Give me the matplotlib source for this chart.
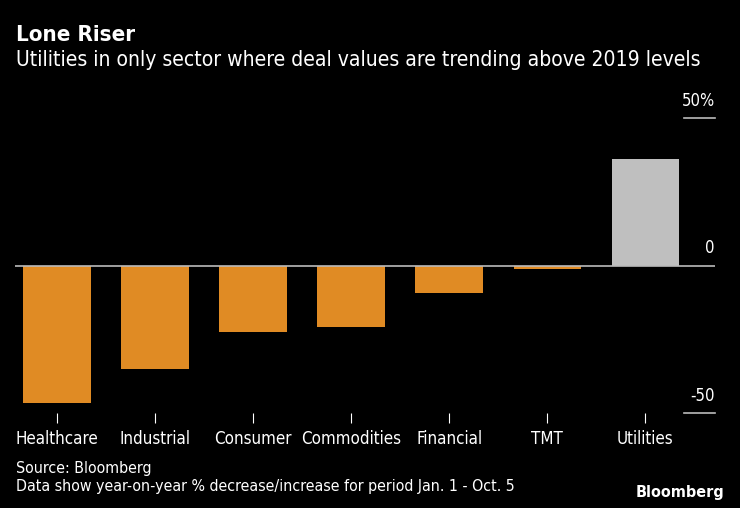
import matplotlib
matplotlib.use("Agg")
import matplotlib.pyplot as plt

sectors = ["Healthcare", "Industrial", "Consumer", "Commodities", "Financial", "TMT", "Utilities"]
values = [-46.6, -35.0, -22.7, -20.8, -9.2, -1.2, 36.0]
ytick_vals = [-50, 0, 50]
ytick_labels = ["-50", "0", "50%"]

plt.rcParams['font.family'] = ['DejaVu Sans']
plt.rcParams['font.stretch'] = 'condensed'

W, H = 740, 508
fig = plt.figure(figsize=(W/100, H/100), dpi=100, facecolor="black")

ax_l, ax_r = 15, 715
ax_top, ax_bot = 118, 413
ax = fig.add_axes([ax_l/W, 1-ax_bot/H, (ax_r-ax_l)/W, (ax_bot-ax_top)/H])
ax.set_facecolor("black")

x = list(range(len(sectors)))
colors = ["#E08B24" if v < 0 else "#BFBFBF" for v in values]
ax.bar(x, values, width=0.69, color=colors, zorder=2)

ax.set_xlim(-0.43, 6.71)
ax.set_ylim(-50, 50)
ax.axhline(0, color="#BBBBBB", lw=1.2, zorder=3)

for s in ax.spines.values():
    s.set_visible(False)
ax.set_yticks([])
ax.set_xticks(x)
ax.set_xticklabels(sectors, color="white", fontsize=12.2)
ax.tick_params(axis="x", length=7, color="white", width=0.8, pad=5)

for v, lab in zip(ytick_vals, ytick_labels):
    if v != 0:
        ax.plot([6.39, 6.71], [v, v], color="#BBBBBB", lw=1.2, clip_on=False, zorder=3)
    ax.annotate(lab, xy=(1.0, v), xycoords=("axes fraction", "data"),
                xytext=(0, 6), textcoords="offset points",
                ha="right", va="bottom", color="white", fontsize=12, annotation_clip=False)

fig.text(16/W, 1-35/H, "Lone Riser", color="white", fontsize=16, fontweight="bold", va="center")
fig.text(16/W, 1-60/H, "Utilities in only sector where deal values are trending above 2019 levels",
         color="white", fontsize=15.1, va="center")
fig.text(16/W, 1-469/H, "Source: Bloomberg", color="white", fontsize=11.4, va="center")
fig.text(16/W, 1-487/H, "Data show year-on-year % decrease/increase for period Jan. 1 - Oct. 5",
         color="white", fontsize=11.4, va="center")
fig.text(724/W, 1-492/H, "Bloomberg", color="white", fontsize=11.5, fontweight="bold",
         ha="right", va="center")

fig.savefig("out.png", dpi=100, facecolor="black")
